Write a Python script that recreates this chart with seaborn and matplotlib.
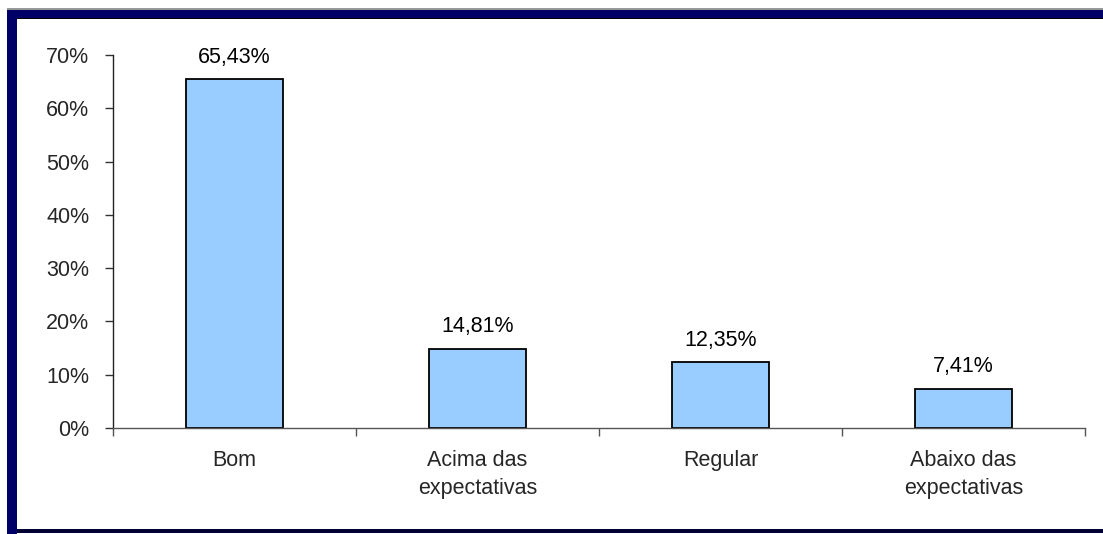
import matplotlib.pyplot as plt
import matplotlib.patches as mpatches
import pandas as pd
import seaborn as sns

# data
categories = ["Bom", "Acima das\nexpectativas", "Regular", "Abaixo das\nexpectativas"]
values = [0.6543, 0.1481, 0.1235, 0.0741]
value_labels = ["65,43%", "14,81%", "12,35%", "7,41%"]
y_ticks = [0.0, 0.1, 0.2, 0.3, 0.4, 0.5, 0.6, 0.7]
y_tick_labels = ["0%", "10%", "20%", "30%", "40%", "50%", "60%", "70%"]


def main():
    sns.set_style("white")
    plt.rcParams['font.family'] = ['Liberation Sans', 'DejaVu Sans']

    data = pd.DataFrame({"categoria": categories, "valor": values})

    fig = plt.figure(figsize=(11.03, 5.34), dpi=100)
    ax = fig.add_axes([113 / 1103, 1 - 428 / 534, (1085 - 113) / 1103, (428 - 55) / 534])

    sns.barplot(data=data, x="categoria", y="valor", color="#99CCFF", width=0.4,
                edgecolor="black", linewidth=1.3, saturation=1, ax=ax)

    # value labels above bars
    for i, (v, lab) in enumerate(zip(values, value_labels)):
        ax.annotate(lab, (i, v), xytext=(0, 12), textcoords="offset points",
                    ha="center", va="baseline", fontsize=15.5, color="black")

    # y axis
    ax.set_ylim(0, 0.7)
    ax.set_yticks(y_ticks)
    ax.set_yticklabels(y_tick_labels, fontsize=15.5)
    ax.tick_params(axis="y", direction="out", length=6, width=1, color="#333333", pad=11, left=True)

    # x axis: labels at centres, ticks between categories
    ax.set_xlim(-0.5, 3.5)
    ax.set_xticks(range(len(categories)))
    ax.set_xticklabels(categories, fontsize=15.5, linespacing=1.45, va="top")
    ax.tick_params(axis="x", which="major", length=0, pad=16)
    ax.set_xticks([-0.5, 0.5, 1.5, 2.5, 3.5], minor=True)
    ax.tick_params(axis="x", which="minor", direction="out", length=6, width=1,
                   color="#555555", bottom=True)

    ax.set_xlabel("")
    ax.set_ylabel("")
    ax.grid(False)
    for side in ["top", "right"]:
        ax.spines[side].set_visible(False)
    ax.spines["left"].set_color("#222222")
    ax.spines["left"].set_linewidth(1)
    ax.spines["bottom"].set_color("#555555")
    ax.spines["bottom"].set_linewidth(1)

    # navy frame around the chart area
    W, H = 1103, 534
    navy = "#000066"
    fig.patches.append(mpatches.Rectangle((7 / W, 0), 10 / W, 1 - 9 / H, transform=fig.transFigure,
                                          facecolor=navy, edgecolor="none"))
    fig.patches.append(mpatches.Rectangle((7 / W, 1 - 18 / H), 1, 9 / H, transform=fig.transFigure,
                                          facecolor=navy, edgecolor="none"))
    fig.patches.append(mpatches.Rectangle((17 / W, 1 - 19 / H), 1, 1.5 / H, transform=fig.transFigure,
                                          facecolor="black", edgecolor="none"))
    fig.patches.append(mpatches.Rectangle((7 / W, 1 - 9.5 / H), 1, 1 / H, transform=fig.transFigure,
                                          facecolor="#999999", edgecolor="none"))
    fig.patches.append(mpatches.Rectangle((17 / W, 1 / H), 1, 4 / H, transform=fig.transFigure,
                                          facecolor="#000033", edgecolor="none"))

    fig.savefig("out.png", dpi=100)


if __name__ == "__main__":
    main()
